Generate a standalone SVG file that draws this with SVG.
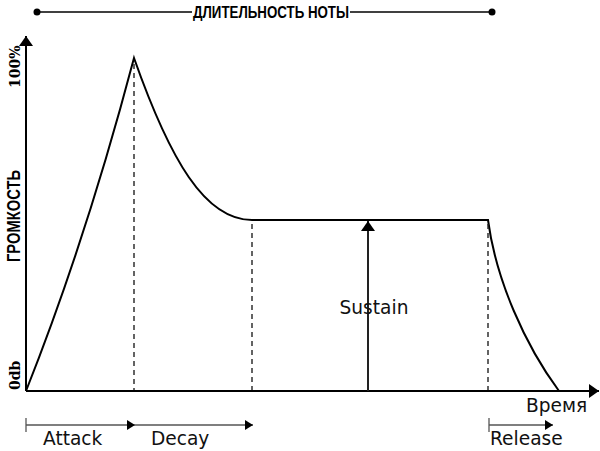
<svg xmlns="http://www.w3.org/2000/svg" width="600" height="451" viewBox="0 0 600 451">
<style>
.ax{stroke:#000;stroke-width:2;fill:none}
.env{stroke:#000;stroke-width:2;fill:none}
.dash{stroke:#222;stroke-width:1.4;stroke-dasharray:5,4;fill:none}
.iv{stroke:#555;stroke-width:1.3;fill:none}
.lbl{font-family:"DejaVu Sans",sans-serif;font-size:18.6px;fill:#111}
.yl{font-family:"DejaVu Serif",serif;font-weight:bold;font-size:14px;fill:#000}
.cond{font-family:"Liberation Sans",sans-serif;font-weight:bold;font-size:16px;fill:#000}
</style>
<defs>
<marker id="ah" markerWidth="8" markerHeight="10" refX="8" refY="5" orient="auto" markerUnits="userSpaceOnUse"><path d="M0,0 L8,5 L0,10 Z" fill="#000"/></marker>
<marker id="ahl" markerWidth="14" markerHeight="14" refX="10" refY="7" orient="auto" markerUnits="userSpaceOnUse"><path d="M0,0 L10,7 L0,14 Z" fill="#000"/></marker>
</defs>
<rect width="600" height="451" fill="#fff"/>
<g id="duration">
<line x1="37" y1="12" x2="492" y2="12" stroke="#000" stroke-width="1.3"/>
<circle cx="37" cy="12" r="3.5" fill="#000"/>
<circle cx="492" cy="12" r="3.5" fill="#000"/>
<rect x="192" y="2" width="158" height="20" fill="#fff"/>
<text class="cond" x="193" y="18" textLength="156" lengthAdjust="spacingAndGlyphs">ДЛИТЕЛЬНОСТЬ НОТЫ</text>
</g>
<g id="axes">
<line class="ax" x1="26" y1="391" x2="26" y2="36" marker-end="url(#ahl)"/>
<line class="ax" x1="26" y1="391" x2="599" y2="391" marker-end="url(#ahl)"/>
<text class="yl" transform="translate(20,88) rotate(-90)">100%</text>
<text class="cond" style="font-size:18px" transform="translate(20,262) rotate(-90)" textLength="92" lengthAdjust="spacingAndGlyphs">ГРОМКОСТЬ</text>
<text class="yl" transform="translate(20,390) rotate(-90)">0db</text>
<text class="lbl" x="526" y="412">Время</text>
</g>
<g id="envelope">
<path class="env" d="M26,391 Q86,240 134,58 C170,160 205,220 252,220 L488,220 C496,280 525,345 559,391"/>
</g>
<g id="connectors">
<line class="dash" x1="134" y1="64" x2="134" y2="390"/>
<line class="dash" x1="252" y1="224" x2="252" y2="390"/>
<line class="dash" x1="488" y1="224" x2="488" y2="390"/>
<line stroke="#222" stroke-width="2" x1="368" y1="391" x2="368" y2="221" marker-end="url(#ahl)"/>
</g>
<g id="sustain"><text class="lbl" x="374" y="314" text-anchor="middle" fill="#222">Sustain</text></g>
<g id="intervals">
<line class="iv" x1="26" y1="418" x2="26" y2="432"/>
<line class="iv" x1="26" y1="425" x2="135" y2="425" marker-end="url(#ah)"/>
<line class="iv" x1="135" y1="425" x2="253" y2="425" marker-end="url(#ah)"/>
<line class="iv" x1="489" y1="418" x2="489" y2="432"/>
<line class="iv" x1="489" y1="425" x2="553" y2="425" marker-end="url(#ah)"/>
<text class="lbl" x="43" y="445">Attack</text>
<text class="lbl" x="151" y="445">Decay</text>
<text class="lbl" x="490" y="445">Release</text>
</g>
</svg>
